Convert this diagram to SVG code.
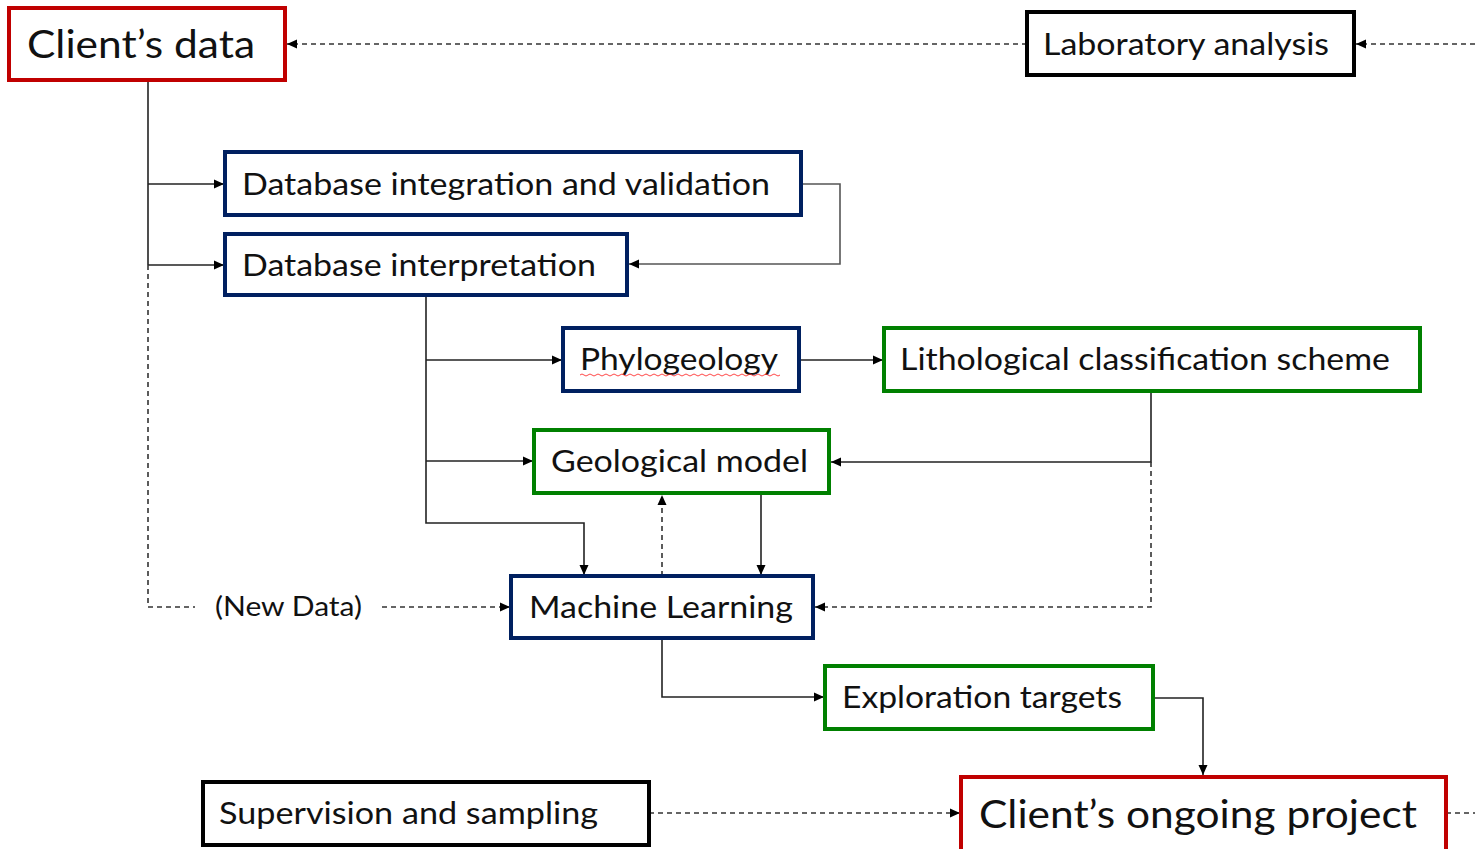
<svg xmlns="http://www.w3.org/2000/svg" width="1475" height="849" viewBox="0 0 1475 849">
<style>
.box{fill:#fff;stroke-width:4}
.red{stroke:#C00000}
.blk{stroke:#000}
.navy{stroke:#002060}
.grn{stroke:#008000}
text{font-family:Lato,"Open Sans","Liberation Sans",sans-serif;fill:#111}
.t30{font-size:30px}
.t40{font-size:39px}
.ln{fill:none;stroke:#222;stroke-width:1.6}
.dash{fill:none;stroke:#333;stroke-width:1.6;stroke-dasharray:5 4}
</style>
<defs>
<marker id="ah" markerUnits="userSpaceOnUse" markerWidth="10" markerHeight="10" viewBox="0 0 10 10" refX="10" refY="5" orient="auto">
<path d="M0,0.5 L10,5 L0,9.5 Z" fill="#000"/>
</marker>
</defs>
<g id="connectors">
<line class="dash" x1="1027" y1="44" x2="287" y2="44" marker-end="url(#ah)"/>
<line class="dash" x1="1475" y1="44" x2="1356" y2="44" marker-end="url(#ah)"/>
<polyline class="ln" points="148,80 148,265"/>
<line class="ln" x1="148" y1="184" x2="224" y2="184" marker-end="url(#ah)"/>
<line class="ln" x1="148" y1="265" x2="224" y2="265" marker-end="url(#ah)"/>
<polyline class="dash" points="148,265 148,607 195,607"/>
<line class="dash" x1="382" y1="607" x2="510" y2="607" marker-end="url(#ah)"/>
<polyline class="ln" points="801,184 840,184 840,264 629,264" marker-end="url(#ah)" style="stroke:#555"/>
<polyline class="ln" points="426,295 426,523 584,523 584,575" marker-end="url(#ah)"/>
<line class="ln" x1="426" y1="360" x2="562" y2="360" marker-end="url(#ah)"/>
<line class="ln" x1="426" y1="461" x2="533" y2="461" marker-end="url(#ah)"/>
<line class="ln" x1="799" y1="360" x2="883" y2="360" marker-end="url(#ah)"/>
<polyline class="ln" points="1151,391 1151,462 831,462" marker-end="url(#ah)"/>
<polyline class="dash" points="1151,462 1151,607 815,607" marker-end="url(#ah)"/>
<line class="ln" x1="761" y1="493" x2="761" y2="575" marker-end="url(#ah)"/>
<line class="dash" x1="662" y1="576" x2="662" y2="495" marker-end="url(#ah)"/>
<polyline class="ln" points="662,638 662,697 824,697" marker-end="url(#ah)"/>
<polyline class="ln" points="1153,698 1203,698 1203,775" marker-end="url(#ah)"/>
<line class="dash" x1="649" y1="813" x2="960" y2="813" marker-end="url(#ah)"/>
<line class="dash" x1="1446" y1="813" x2="1475" y2="813"/>
</g>
<g id="clients-data">
<rect class="box red" x="9" y="8" width="276" height="72"/>
<text class="t40" x="27" y="58" textLength="228" lengthAdjust="spacingAndGlyphs">Client’s data</text>
</g>
<g id="laboratory-analysis">
<rect class="box blk" x="1027" y="12" width="327" height="63"/>
<text class="t30" x="1043" y="55" textLength="286" lengthAdjust="spacingAndGlyphs">Laboratory analysis</text>
</g>
<g id="db-integration">
<rect class="box navy" x="225" y="152" width="576" height="63"/>
<text class="t30" x="242" y="195" textLength="528" lengthAdjust="spacingAndGlyphs">Database integration and validation</text>
</g>
<g id="db-interpretation">
<rect class="box navy" x="225" y="234" width="402" height="61"/>
<text class="t30" x="242" y="276" textLength="354" lengthAdjust="spacingAndGlyphs">Database interpretation</text>
</g>
<g id="phylogeology">
<rect class="box navy" x="563" y="328" width="236" height="63"/>
<text class="t30" x="580" y="370" textLength="198" lengthAdjust="spacingAndGlyphs">Phylogeology</text>
<path d="M580,375 q2,-2 4,0 t4,0 t4,0 t4,0 t4,0 t4,0 t4,0 t4,0 t4,0 t4,0 t4,0 t4,0 t4,0 t4,0 t4,0 t4,0 t4,0 t4,0 t4,0 t4,0 t4,0 t4,0 t4,0 t4,0 t4,0 t4,0 t4,0 t4,0 t4,0 t4,0 t4,0 t4,0 t4,0 t4,0 t4,0 t4,0 t4,0 t4,0 t4,0 t4,0 t4,0 t4,0 t4,0 t4,0 t4,0 t4,0 t4,0 t4,0 t4,0 t4,0" fill="none" stroke="#ff3333" stroke-width="0.9"/>
</g>
<g id="lithological">
<rect class="box grn" x="884" y="328" width="536" height="63"/>
<text class="t30" x="900" y="370" textLength="490" lengthAdjust="spacingAndGlyphs">Lithological classification scheme</text>
</g>
<g id="geological-model">
<rect class="box grn" x="534" y="430" width="295" height="63"/>
<text class="t30" x="551" y="472" textLength="257" lengthAdjust="spacingAndGlyphs">Geological model</text>
</g>
<g id="new-data">
<text style="font-size:26px" x="215" y="616" textLength="147" lengthAdjust="spacingAndGlyphs">(New Data)</text>
</g>
<g id="machine-learning">
<rect class="box navy" x="511" y="576" width="302" height="62"/>
<text class="t30" x="529" y="618" textLength="264" lengthAdjust="spacingAndGlyphs">Machine Learning</text>
</g>
<g id="exploration-targets">
<rect class="box grn" x="825" y="666" width="328" height="63"/>
<text class="t30" x="842" y="708" textLength="280" lengthAdjust="spacingAndGlyphs">Exploration targets</text>
</g>
<g id="supervision">
<rect class="box blk" x="203" y="782" width="446" height="63"/>
<text class="t30" x="219" y="824" textLength="379" lengthAdjust="spacingAndGlyphs">Supervision and sampling</text>
</g>
<g id="clients-ongoing">
<rect class="box red" x="961" y="777" width="485" height="76"/>
<text class="t40" x="979" y="828" textLength="438" lengthAdjust="spacingAndGlyphs">Client’s ongoing project</text>
</g>
</svg>
